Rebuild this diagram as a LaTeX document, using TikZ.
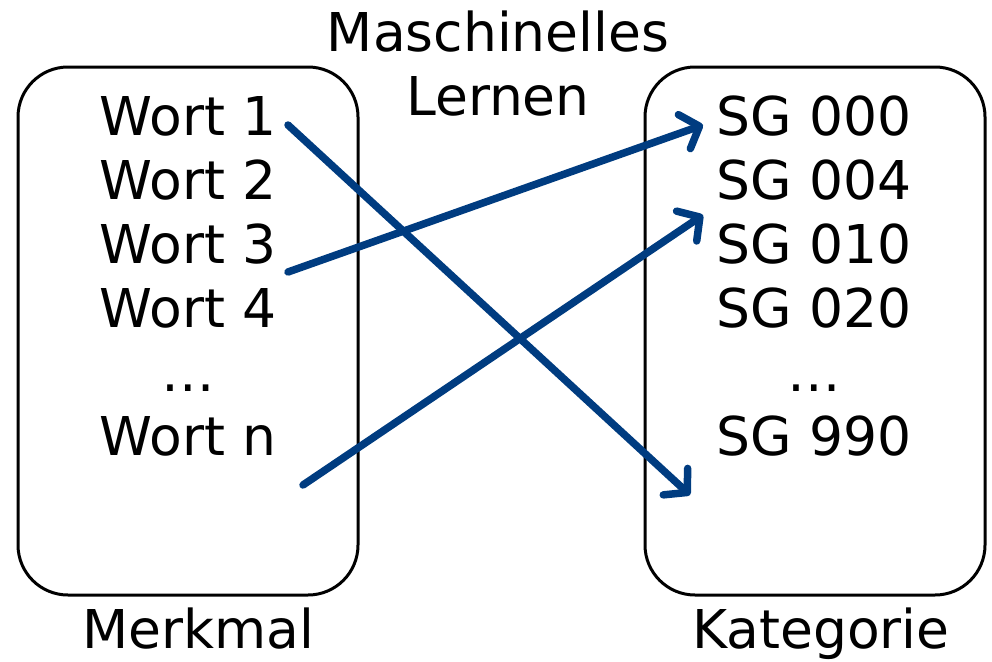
\documentclass[tikz,border=0pt]{standalone}
\usepackage{fontspec}
\setmainfont{DejaVu Sans}
\usetikzlibrary{arrows.meta}
\definecolor{arrowblue}{RGB}{0,60,128}
\tikzset{
  box/.style={draw=black, line width=3pt, rounded corners=50pt},
  word/.style={anchor=base, inner sep=0pt, font=\fontsize{53.5}{62}\selectfont},
  conn/.style={draw=arrowblue, line width=7.5pt, line cap=round, line join=round,
    -{Straight Barb[length=16pt,width=36pt,line cap=round,line join=round]}}
}
\begin{document}
\begin{tikzpicture}[x=1pt,y=-1pt]
\useasboundingbox (0,0) rectangle (992,661);
\draw[box] (18,67) rectangle (358,595);
\draw[box] (645,67) rectangle (985,595);
% left words
\node[word] (w1) at (188,135) {Wort 1};
\node[word] (w2) at (188,199) {Wort 2};
\node[word] (w3) at (188,263) {Wort 3};
\node[word] (w4) at (188,327) {Wort 4};
\node[word] (wd) at (188,391) {…};
\node[word] (wn) at (188,455) {Wort n};
% right words
\node[word] (s1) at (814,135) {SG 000};
\node[word] (s2) at (814,199) {SG 004};
\node[word] (s3) at (814,263) {SG 010};
\node[word] (s4) at (814,327) {SG 020};
\node[word] (sd) at (814,391) {…};
\node[word] (sn) at (814,455) {SG 990};
% titles
\node[word] (ml1) at (498,52) {Maschinelles};
\node[word] (ml2) at (498,115) {Lernen};
\node[word] (mk) at (198,648) {Merkmal};
\node[word] (kt) at (821,648) {Kategorie};
% connector ends
\coordinate (a1s) at (288,125);
\coordinate (a1e) at (690,495);
\coordinate (a2s) at (288,272);
\coordinate (a2e) at (703,125);
\coordinate (a3s) at (303,485);
\coordinate (a3e) at (703,215);
\draw[conn] (a1s) -- (a1e);
\draw[conn] (a2s) -- (a2e);
\draw[conn] (a3s) -- (a3e);
\end{tikzpicture}
\end{document}
